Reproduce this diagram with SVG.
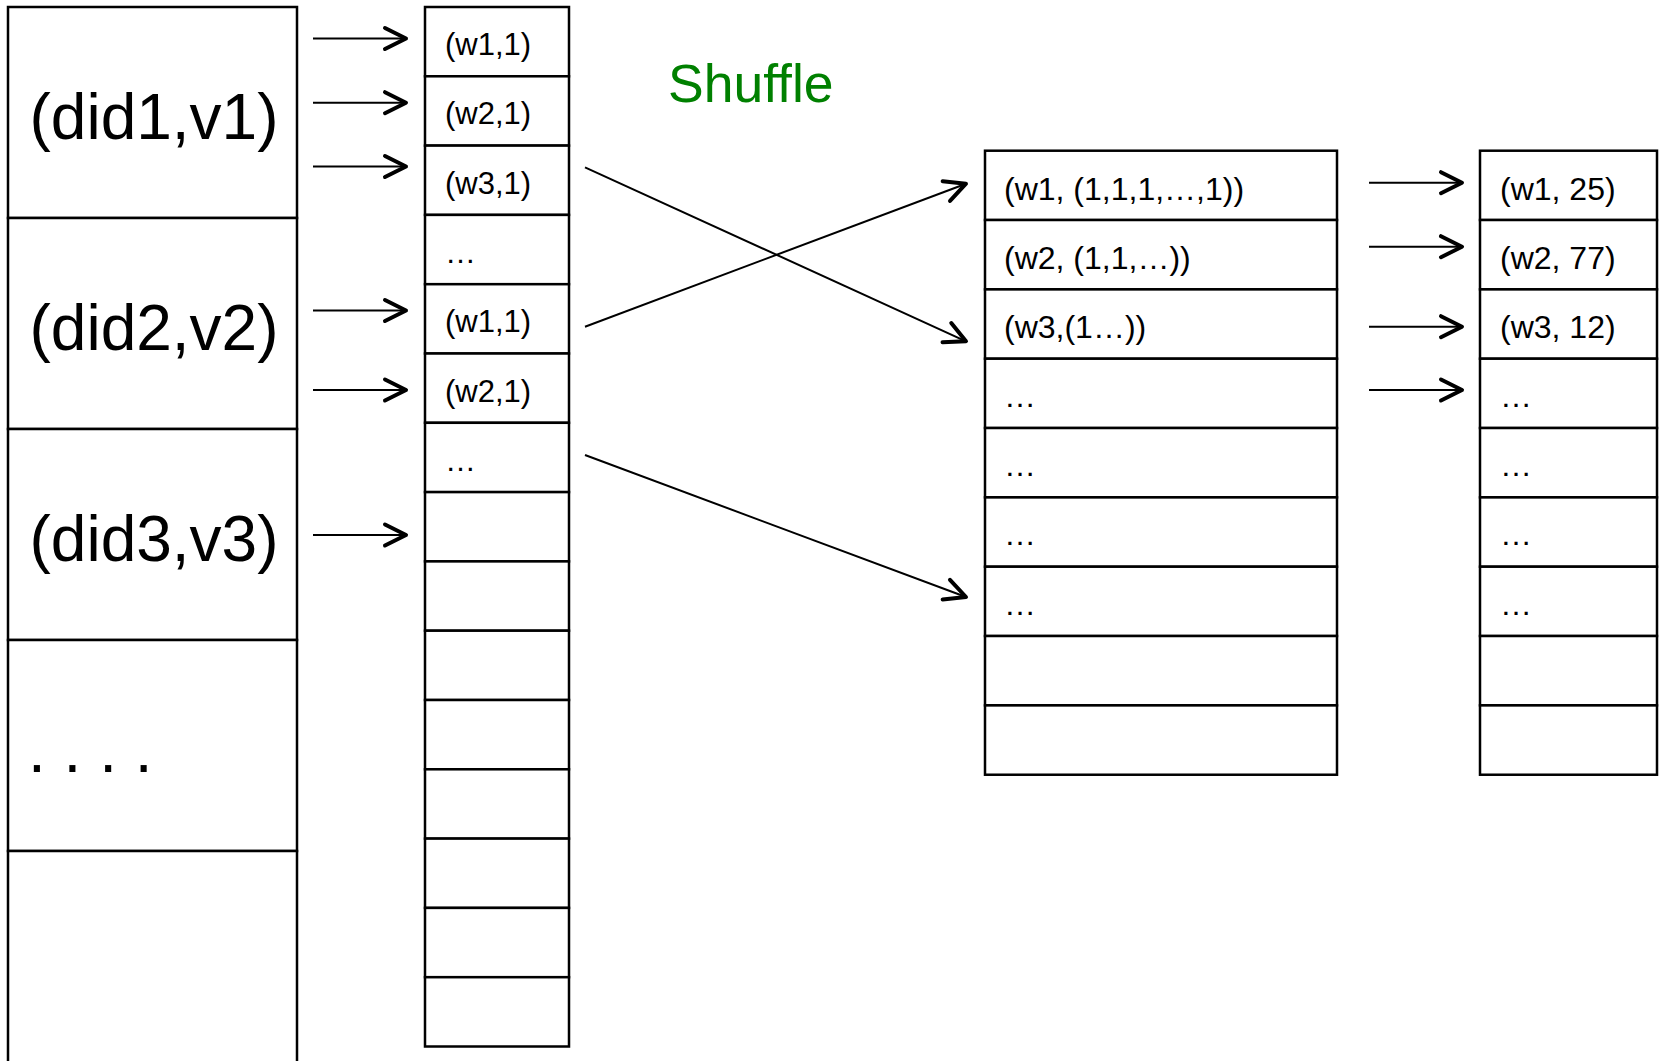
<svg xmlns="http://www.w3.org/2000/svg" width="1659" height="1061" viewBox="0 0 1659 1061">
<defs>
<style>
.cell{fill:#fff;stroke:#000;stroke-width:2.5}
.txt{font-family:"Liberation Sans",Arial,Helvetica,sans-serif;fill:#000}
.big{font-size:64px}
.sm{font-size:31px}
.md{font-size:32px}
.conn{stroke:#000;stroke-width:2;fill:none;marker-end:url(#arr)}
</style>
<marker id="arr" markerUnits="userSpaceOnUse" markerWidth="30" markerHeight="30" viewBox="-26 -15 30 30" refX="0" refY="0" orient="auto" overflow="visible">
<path d="M-21,-10.5 L0,0 L-21,10.5" fill="none" stroke="#000" stroke-width="4" stroke-linecap="round" stroke-linejoin="round"/>
</marker>
</defs>
<rect x="0" y="0" width="1659" height="1061" fill="#fff"/>

<g id="documents">
<g id="doc1"><rect class="cell" x="8" y="7" width="289" height="211"/><text class="txt big" x="154" y="139" text-anchor="middle">(did1,v1)</text></g>
<g id="doc2"><rect class="cell" x="8" y="218" width="289" height="211"/><text class="txt big" x="154" y="350" text-anchor="middle">(did2,v2)</text></g>
<g id="doc3"><rect class="cell" x="8" y="429" width="289" height="211"/><text class="txt big" x="154" y="561" text-anchor="middle">(did3,v3)</text></g>
<g id="doc4"><rect class="cell" x="8" y="640" width="289" height="211"/><text class="txt big" x="28" y="772">. . . .</text></g>
<g id="doc5"><rect class="cell" x="8" y="851" width="289" height="230"/></g>
</g>

<g id="map-output">
<g id="m1"><rect class="cell" x="425" y="7" width="144" height="69.3"/><text class="txt sm" x="445" y="55">(w1,1)</text></g>
<g id="m2"><rect class="cell" x="425" y="76.3" width="144" height="69.3"/><text class="txt sm" x="445" y="124.3">(w2,1)</text></g>
<g id="m3"><rect class="cell" x="425" y="145.6" width="144" height="69.3"/><text class="txt sm" x="445" y="193.6">(w3,1)</text></g>
<g id="m4"><rect class="cell" x="425" y="214.9" width="144" height="69.3"/><text class="txt sm" x="445" y="262.9">…</text></g>
<g id="m5"><rect class="cell" x="425" y="284.2" width="144" height="69.3"/><text class="txt sm" x="445" y="332.2">(w1,1)</text></g>
<g id="m6"><rect class="cell" x="425" y="353.5" width="144" height="69.3"/><text class="txt sm" x="445" y="401.5">(w2,1)</text></g>
<g id="m7"><rect class="cell" x="425" y="422.8" width="144" height="69.3"/><text class="txt sm" x="445" y="470.8">…</text></g>
<g id="m8"><rect class="cell" x="425" y="492.1" width="144" height="69.3"/></g>
<g id="m9"><rect class="cell" x="425" y="561.4" width="144" height="69.3"/></g>
<g id="m10"><rect class="cell" x="425" y="630.7" width="144" height="69.3"/></g>
<g id="m11"><rect class="cell" x="425" y="700" width="144" height="69.3"/></g>
<g id="m12"><rect class="cell" x="425" y="769.3" width="144" height="69.3"/></g>
<g id="m13"><rect class="cell" x="425" y="838.6" width="144" height="69.3"/></g>
<g id="m14"><rect class="cell" x="425" y="907.9" width="144" height="69.3"/></g>
<g id="m15"><rect class="cell" x="425" y="977.2" width="144" height="69.3"/></g>
</g>

<g id="shuffle-label"><text class="txt" x="668" y="101.7" font-size="53.5" style="fill:#008000">Shuffle</text></g>

<g id="grouped">
<g id="g1"><rect class="cell" x="985" y="150.7" width="352" height="69.33"/><text class="txt md" x="1004" y="199.5">(w1, (1,1,1,…,1))</text></g>
<g id="g2"><rect class="cell" x="985" y="220" width="352" height="69.33"/><text class="txt md" x="1004" y="268.8">(w2, (1,1,…))</text></g>
<g id="g3"><rect class="cell" x="985" y="289.4" width="352" height="69.33"/><text class="txt md" x="1004" y="338.2">(w3,(1…))</text></g>
<g id="g4"><rect class="cell" x="985" y="358.7" width="352" height="69.33"/><text class="txt md" x="1004" y="406.7">…</text></g>
<g id="g5"><rect class="cell" x="985" y="428" width="352" height="69.33"/><text class="txt md" x="1004" y="476">…</text></g>
<g id="g6"><rect class="cell" x="985" y="497.4" width="352" height="69.33"/><text class="txt md" x="1004" y="545.4">…</text></g>
<g id="g7"><rect class="cell" x="985" y="566.7" width="352" height="69.33"/><text class="txt md" x="1004" y="614.7">…</text></g>
<g id="g8"><rect class="cell" x="985" y="636" width="352" height="69.33"/></g>
<g id="g9"><rect class="cell" x="985" y="705.4" width="352" height="69.33"/></g>
</g>

<g id="reduced">
<g id="r1"><rect class="cell" x="1480" y="150.7" width="177" height="69.33"/><text class="txt md" x="1500" y="199.5">(w1, 25)</text></g>
<g id="r2"><rect class="cell" x="1480" y="220" width="177" height="69.33"/><text class="txt md" x="1500" y="268.8">(w2, 77)</text></g>
<g id="r3"><rect class="cell" x="1480" y="289.4" width="177" height="69.33"/><text class="txt md" x="1500" y="338.2">(w3, 12)</text></g>
<g id="r4"><rect class="cell" x="1480" y="358.7" width="177" height="69.33"/><text class="txt md" x="1500" y="406.7">…</text></g>
<g id="r5"><rect class="cell" x="1480" y="428" width="177" height="69.33"/><text class="txt md" x="1500" y="476">…</text></g>
<g id="r6"><rect class="cell" x="1480" y="497.4" width="177" height="69.33"/><text class="txt md" x="1500" y="545.4">…</text></g>
<g id="r7"><rect class="cell" x="1480" y="566.7" width="177" height="69.33"/><text class="txt md" x="1500" y="614.7">…</text></g>
<g id="r8"><rect class="cell" x="1480" y="636" width="177" height="69.33"/></g>
<g id="r9"><rect class="cell" x="1480" y="705.4" width="177" height="69.33"/></g>
</g>

<g id="connectors">
<line class="conn" x1="313" y1="38.5" x2="406" y2="38.5"/>
<line class="conn" x1="313" y1="102.7" x2="406" y2="102.7"/>
<line class="conn" x1="313" y1="166.5" x2="406" y2="166.5"/>
<line class="conn" x1="313" y1="310.5" x2="406" y2="310.5"/>
<line class="conn" x1="313" y1="390" x2="406" y2="390"/>
<line class="conn" x1="313" y1="535" x2="406" y2="535"/>
<line class="conn" x1="585" y1="167.3" x2="966" y2="341.3"/>
<line class="conn" x1="585" y1="326.7" x2="966" y2="183.7"/>
<line class="conn" x1="585" y1="455" x2="966" y2="597"/>
<line class="conn" x1="1369" y1="182.7" x2="1462" y2="182.7"/>
<line class="conn" x1="1369" y1="246.7" x2="1462" y2="246.7"/>
<line class="conn" x1="1369" y1="326.7" x2="1462" y2="326.7"/>
<line class="conn" x1="1369" y1="390" x2="1462" y2="390"/>
</g>
</svg>
